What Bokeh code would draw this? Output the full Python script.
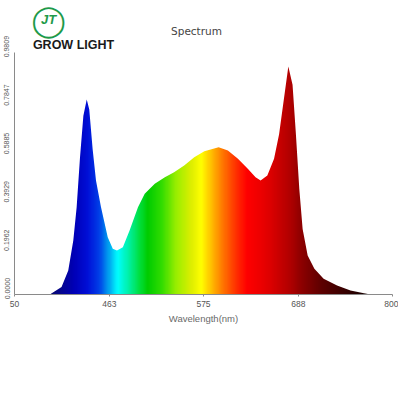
import numpy as np
from bokeh.plotting import figure
from bokeh.models import FixedTicker, Label
from bokeh.embed import file_html
from bokeh.resources import INLINE

# ---- data ----
wavelength = [392, 406, 414, 420, 424, 428, 432, 436, 439, 443, 447, 453, 461, 467, 472,
              479, 487, 497, 505, 517, 529, 540, 552, 564, 576, 593, 604, 616, 628, 637,
              643, 651, 659, 665, 671, 676, 681, 685, 689, 693, 699, 707, 718, 734, 750,
              766, 774]
intensity = [0.000, 0.030, 0.097, 0.219, 0.354, 0.556, 0.725, 0.790, 0.750, 0.590, 0.462,
             0.354, 0.232, 0.185, 0.178, 0.192, 0.259, 0.354, 0.408, 0.449, 0.475, 0.496,
             0.523, 0.556, 0.581, 0.597, 0.584, 0.550, 0.509, 0.475, 0.462, 0.482, 0.550,
             0.650, 0.800, 0.924, 0.850, 0.650, 0.430, 0.265, 0.158, 0.104, 0.064, 0.036,
             0.016, 0.005, 0.000]
x_ticks = [350, 463, 575, 688, 800]
x_tick_labels = ["50", "463", "575", "688", "800"]
y_ticks = [0.0, 0.1962, 0.3929, 0.5885, 0.7847, 0.9809]
y_tick_labels = ["0.0000", "0.1962", "0.3929", "0.5885", "0.7847", "0.9809"]

X_MIN, X_MAX = 350, 800
Y_MAX = 0.9809
Y_TOP = 1.1917   # extra room above the axis for title and logo

# ---- spectral colour stops (styling) ----
stops = [
    (392, "#0a0a70"), (420, "#0000b8"), (436, "#0010d8"), (450, "#0040e8"),
    (462, "#00a8f0"), (472, "#00ffff"), (486, "#00f0a0"), (498, "#00e040"),
    (508, "#00cc00"), (525, "#33dd00"), (542, "#99ee00"), (560, "#ddee00"),
    (572, "#ffff00"), (584, "#ffc000"), (596, "#ff8000"), (614, "#ff3000"),
    (627, "#ff0000"), (643, "#ee0000"), (655, "#dd0000"), (679, "#b00000"),
    (691, "#900000"), (715, "#600000"), (738, "#400000"), (762, "#200000"),
    (774, "#180000"),
]
s_nm = np.array([s[0] for s in stops], dtype=float)
s_rgb = np.array([[int(c[1:3], 16), int(c[3:5], 16), int(c[5:7], 16)] for _, c in stops], dtype=float)

x0, x1 = wavelength[0], wavelength[-1]
N = 600
grid = np.linspace(x0, x1, N)
img = np.empty((1, N), dtype=np.uint32)
view = img.view(dtype=np.uint8).reshape((1, N, 4))
for k in range(3):
    view[0, :, k] = np.interp(grid, s_nm, s_rgb[:, k]).astype(np.uint8)
view[0, :, 3] = 255

p = figure(width=398, height=340, x_range=(X_MIN, X_MAX), y_range=(0, Y_TOP),
           output_backend="svg", toolbar_location=None,
           min_border_top=0, min_border_bottom=46, min_border_right=6, min_border_left=14)
p.outline_line_color = None
p.grid.visible = False
p.background_fill_color = "white"

# gradient underneath, then white mask above the spectrum curve
p.image_rgba(image=[img], x=x0 + 1, y=0, dw=x1 - x0 - 2, dh=max(intensity) + 0.03)
p.varea(x=wavelength, y1=intensity, y2=[Y_TOP] * len(wavelength),
        fill_color="white", fill_alpha=1.0)

# axes
p.xaxis.ticker = FixedTicker(ticks=x_ticks)
p.xaxis.major_label_overrides = {t: l for t, l in zip(x_ticks, x_tick_labels)}
p.yaxis.ticker = FixedTicker(ticks=y_ticks)
p.yaxis.bounds = (0, Y_MAX)
# leading no-break spaces nudge the upright labels upward a little, as in the reference
p.yaxis.major_label_overrides = {t: "\u00a0" * 6 + l for t, l in zip(y_ticks, y_tick_labels)}
p.yaxis.major_label_orientation = "vertical"
for ax in (p.xaxis[0], p.yaxis[0]):
    ax.axis_line_color = "#8a8a8a"
    ax.major_tick_line_color = "#8a8a8a"
    ax.major_tick_in = 0
    ax.minor_tick_line_color = None
    ax.major_label_text_color = "#555555"
    ax.major_label_text_font = "Liberation Sans"
p.xaxis.major_tick_out = 2
p.yaxis.major_tick_out = 0
p.xaxis.major_label_text_font_size = "8.5px"
p.xaxis.major_label_standoff = 4
p.yaxis.major_label_text_font_size = "7px"
p.yaxis.major_label_standoff = 4
p.xaxis.axis_label = "Wavelength(nm)"
p.xaxis.axis_label_text_font = "Liberation Sans"
p.xaxis.axis_label_text_font_style = "normal"
p.xaxis.axis_label_text_font_size = "9.5px"
p.xaxis.axis_label_text_color = "#6a6a6a"
p.xaxis.axis_label_standoff = 3

# title and logo
p.add_layout(Label(x=196, y=30, x_units="canvas", y_units="canvas", text="Spectrum",
                   text_font="DejaVu Sans", text_font_size="10.5px", text_color="#444444",
                   text_align="center", text_baseline="middle"))
p.add_layout(Label(x=73, y=44, x_units="canvas", y_units="canvas", text="GROW LIGHT",
                   text_font="Liberation Sans", text_font_style="bold", text_font_size="12.5px",
                   text_color="#1a1a1a", text_align="center", text_baseline="middle"))
p.add_layout(Label(x=48, y=19, x_units="canvas", y_units="canvas", text="◯",
                   text_font="DejaVu Sans", text_font_size="31px", text_color="#1e9a4a",
                   text_align="center", text_baseline="middle"))
p.add_layout(Label(x=48, y=19, x_units="canvas", y_units="canvas", text="JT",
                   text_font="Liberation Sans", text_font_style="bold italic", text_font_size="13px",
                   text_color="#1e9a4a", text_align="center", text_baseline="middle"))

open("out.html", "w").write(file_html(p, INLINE))
